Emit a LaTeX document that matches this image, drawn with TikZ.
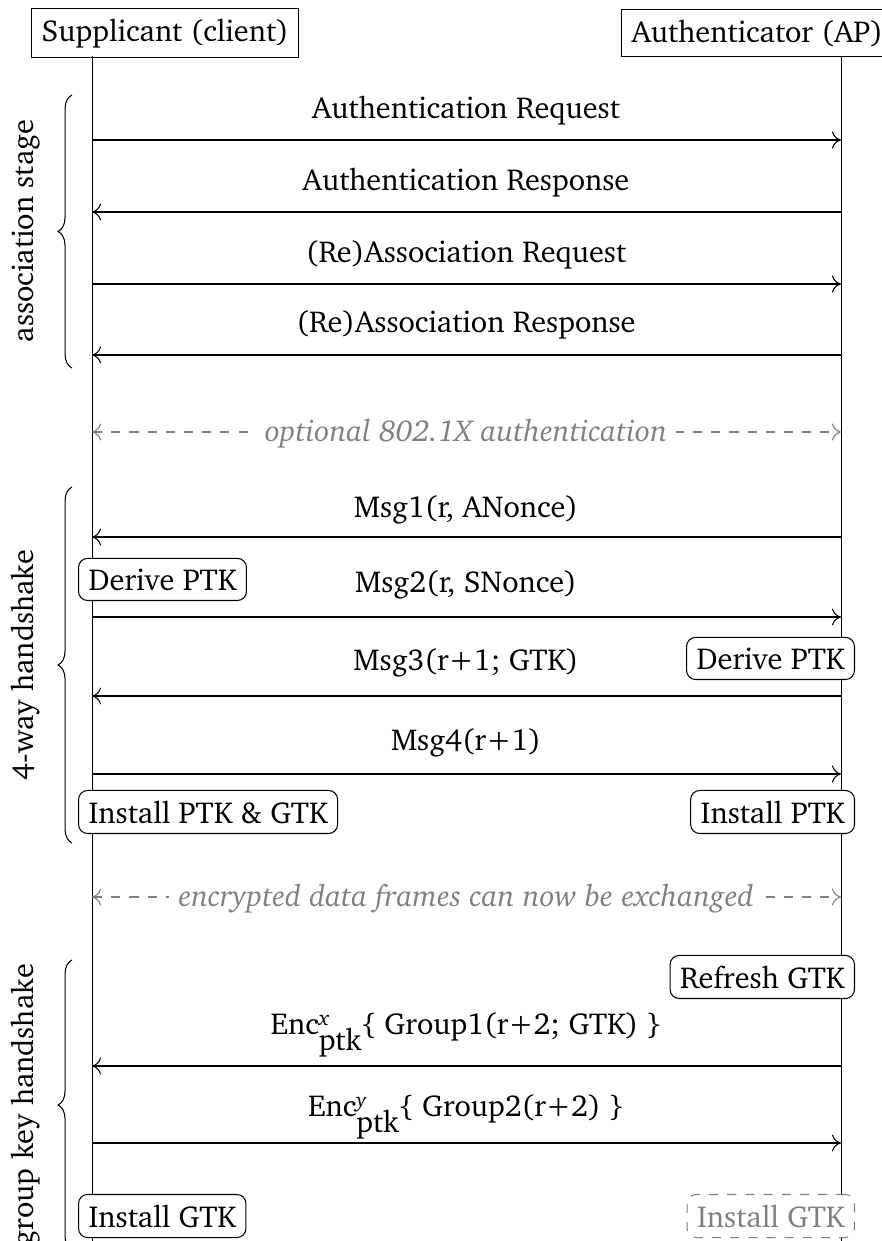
\documentclass[tikz,border=0pt]{standalone}
\usepackage[T1]{fontenc}
\usepackage{charter}
\usetikzlibrary{decorations.pathreplacing,arrows.meta}
\begin{document}
\begin{tikzpicture}[x=0.33pt,y=-0.33pt,
  every node/.style={font=\normalsize},
  tip/.tip={To[length=3pt,width=5.6pt]},
  msg/.style={-tip,line width=0.35pt},
  opt/.style={tip-tip,gray,dashed,line width=0.35pt},
  lbl/.style={anchor=base},
  optlbl/.style={anchor=base,fill=white,text=gray,font=\normalsize\itshape,inner xsep=3pt},
  actor/.style={draw,line width=0.35pt,inner sep=3.33pt},
  act/.style={draw,line width=0.35pt,rounded corners=3pt,fill=white,inner sep=3.33pt},
  ghost/.style={act,dashed,draw=gray,text=gray},
  stage/.style={decorate,decoration={brace,amplitude=4.6pt},line width=0.35pt},
  stagelbl/.style={rotate=90,anchor=base}]
\useasboundingbox (0,0) rectangle (881,1241);
% actors
\node[actor,anchor=west] (sup) at (31,33) {Supplicant (client)};
\node[actor,anchor=west] (aut) at (621,33) {Authenticator (AP)};
\coordinate (st) at (92,56);
\coordinate (at) at (841,56);
\coordinate (sb) at (92,1241);
\coordinate (ab) at (841,1241);
\draw[line width=0.3pt] (st) -- (sb);
\draw[line width=0.3pt] (at) -- (ab);
% association stage
\coordinate (m1s) at (92,140);  \coordinate (m1a) at (841,140);
\coordinate (m2s) at (92,212);  \coordinate (m2a) at (841,212);
\coordinate (m3s) at (92,284);  \coordinate (m3a) at (841,284);
\coordinate (m4s) at (92,355);  \coordinate (m4a) at (841,355);
\draw[msg] (m1s) -- (m1a);
\draw[msg] (m2a) -- (m2s);
\draw[msg] (m3s) -- (m3a);
\draw[msg] (m4a) -- (m4s);
\node[lbl] (t1) at (466,119) {Authentication Request};
\node[lbl] (t2) at (466,191) {Authentication Response};
\node[lbl] (t3) at (466,262) {(Re)Association Request};
\node[lbl] (t4) at (466,333) {(Re)Association Response};
% optional 802.1X
\coordinate (o1s) at (92,432); \coordinate (o1a) at (841,432);
\draw[opt] (o1s) -- (o1a);
\node[optlbl] (o1) at (466,441) {optional 802.1X authentication};
% 4-way handshake
\coordinate (h1s) at (92,537);  \coordinate (h1a) at (841,537);
\coordinate (h2s) at (92,617);  \coordinate (h2a) at (841,617);
\coordinate (h3s) at (92,696);  \coordinate (h3a) at (841,696);
\coordinate (h4s) at (92,774);  \coordinate (h4a) at (841,774);
\draw[msg] (h1a) -- (h1s);
\draw[msg] (h2s) -- (h2a);
\draw[msg] (h3a) -- (h3s);
\draw[msg] (h4s) -- (h4a);
\node[lbl] (u1) at (466,517) {Msg1(r, ANonce)};
\node[lbl] (u2) at (466,592) {Msg2(r, SNonce)};
\node[lbl] (u3) at (466,670) {Msg3(r+1; GTK)};
\node[lbl] (u4) at (466,750) {Msg4(r+1)};
\node[act,anchor=base west] (dp1) at (78,590) {Derive PTK};
\node[act,anchor=base east] (dp2) at (855,669) {Derive PTK};
\node[act,anchor=base west] (ip1) at (78,823) {Install PTK \& GTK};
\node[act,anchor=base east] (ip2) at (855,823) {Install PTK};
% encrypted data
\coordinate (o2s) at (92,897); \coordinate (o2a) at (841,897);
\draw[opt] (o2s) -- (o2a);
\node[optlbl] (o2) at (466,906) {encrypted data frames can now be exchanged};
% group key handshake
\node[act,anchor=base east] (rg) at (855,988) {Refresh GTK};
\coordinate (g1s) at (92,1066);  \coordinate (g1a) at (841,1066);
\coordinate (g2s) at (92,1143);  \coordinate (g2a) at (841,1143);
\draw[msg] (g1a) -- (g1s);
\draw[msg] (g2s) -- (g2a);
\node[lbl] (v1) at (466,1034) {Enc\rlap{\raisebox{2.7pt}{\scriptsize\itshape x}}\raisebox{-5.4pt}{ptk}\{ Group1(r+2; GTK) \}};
\node[lbl] (v2) at (466,1116) {Enc\rlap{\raisebox{2.7pt}{\scriptsize\itshape y}}\raisebox{-5.4pt}{ptk}\{ Group2(r+2) \}};
\node[act,anchor=base west] (ig1) at (78,1227) {Install GTK};
\node[ghost,anchor=base east] (ig2) at (855,1227) {Install GTK};
% braces
\coordinate (b1t) at (72,95);   \coordinate (b1b) at (72,368);
\coordinate (b2t) at (72,487);  \coordinate (b2b) at (72,843);
\coordinate (b3t) at (72,960);  \coordinate (b3b) at (72,1250);
\draw[stage] (b1b) -- (b1t);
\draw[stage] (b2b) -- (b2t);
\draw[stage] (b3b) -- (b3t);
\node[stagelbl] (s1) at (33,231) {association stage};
\node[stagelbl] (s2) at (33,665) {4-way handshake};
\node[stagelbl] (s3) at (33,1105) {group key handshake};
\end{tikzpicture}
\end{document}
